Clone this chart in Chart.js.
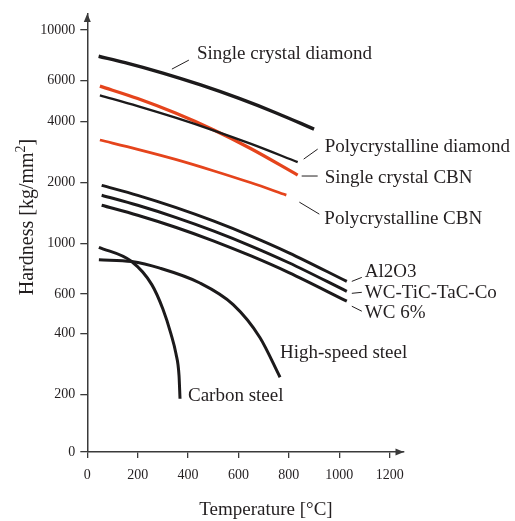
<!DOCTYPE html>
<html>
<head>
<meta charset="utf-8">
<script src="https://cdn.jsdelivr.net/npm/chart.js@4"></script>
<style>
  body { margin: 0; background: #fff; }
  canvas { display: block; }
</style>
</head>
<body>
<canvas id="chart" width="515" height="521"></canvas>
<script>
// tick labels
const xTickValues = [0, 200, 400, 600, 800, 1000, 1200];
const yTickValues = [0, 200, 400, 600, 1000, 2000, 4000, 6000, 10000];

// series names
const seriesNames = ["Single crystal diamond", "Polycrystalline diamond", "Single crystal CBN",
    "Polycrystalline CBN", "Al2O3", "WC-TiC-TaC-Co", "WC 6%", "High-speed steel", "Carbon steel"];

// temperature [°C] / hardness [kg/mm2]
const tempScDiamond = [45, 150, 300, 450, 600, 750, 900];
const hardScDiamond = [7670, 7190, 6470, 5745, 5040, 4355, 3670];
const tempPcDiamond = [50, 200, 350, 500, 650, 835];
const hardPcDiamond = [5180, 4660, 4155, 3620, 3100, 2520];
const tempScCBN = [50, 200, 350, 500, 650, 835];
const hardScCBN = [5680, 5025, 4350, 3645, 2935, 2175];
const tempPcCBN = [50, 200, 350, 500, 650, 790];
const hardPcCBN = [3240, 2915, 2600, 2285, 1990, 1730];
const tempCeramic = [57, 200, 350, 500, 650, 800, 1030];
const hardAl2O3 = [1933, 1726, 1505, 1290, 1086, 909, 681];
const hardWCTiC = [1728, 1541, 1344, 1152, 973, 822, 616];
const hardWC6 = [1543, 1377, 1201, 1029, 880, 744, 557];
const tempHSS = [46, 176, 288, 447, 579, 685, 765];
const hardHSS = [847, 832, 778, 670, 538, 383, 244];
const tempCarbon = [46, 176, 256, 300, 332, 352, 364, 368];
const hardCarbon = [961, 832, 659, 514, 399, 318, 249, 186];

// the hardness axis is not evenly spaced, these are where the ticks sit (axis units)
const yTickPos = [0, 57.7, 119.3, 159.3, 210.3, 271.7, 333, 374.3, 425.3];

function toAxis(h) {
    if (h <= yTickValues[1]) return h / yTickValues[1] * yTickPos[1];
    for (var i = 1; i < yTickValues.length - 1; i++) {
        var a = yTickValues[i], b = yTickValues[i + 1];
        if (h <= b || i == yTickValues.length - 2) {
            var f = Math.log(h / a) / Math.log(b / a);
            return yTickPos[i] + f * (yTickPos[i + 1] - yTickPos[i]);
        }
    }
}

function pts(temps, hards) {
    return temps.map((t, i) => ({ x: t, y: toAxis(hards[i]) }));
}

const BLACK = '#1c1a1b';
const RED = '#e5441c';
const TEXT = '#231f20';
const AXIS = '#3a3a3a';
const SERIF = "'Liberation Serif', 'DejaVu Serif', serif";

const seriesData = [
    [tempScDiamond, hardScDiamond, BLACK, 3.4],
    [tempPcDiamond, hardPcDiamond, BLACK, 2.4],
    [tempScCBN, hardScCBN, RED, 3.2],
    [tempPcCBN, hardPcCBN, RED, 2.7],
    [tempCeramic, hardAl2O3, BLACK, 3],
    [tempCeramic, hardWCTiC, BLACK, 3],
    [tempCeramic, hardWC6, BLACK, 3],
    [tempHSS, hardHSS, BLACK, 3],
    [tempCarbon, hardCarbon, BLACK, 3]
];

// label placement: which point it hangs off, leader line and text offsets in px
const labelSpots = [
    { point: 2, leader: [9, -4, 26, -13], text: [34, -19.5] },
    { point: -1, leader: [6, -3, 20, -13], text: [27, -15] },
    { point: -1, leader: [4, 1, 20, 1], text: [27, 2.5] },
    { point: -1, leader: [13, 7, 33, 19], text: [38, 24] },
    { point: -1, leader: [5, 0, 15, -4], text: [18, -9] },
    { point: -1, leader: [5, 2, 15, 1], text: [18, 2] },
    { point: -1, leader: [5, 5, 15, 10], text: [18, 12] },
    { point: -1, leader: null, text: [0, -24] },
    { point: -1, leader: null, text: [8, -3] }
];

const decorations = {
    id: 'decorations',
    afterDraw(chart) {
        const ctx = chart.ctx;
        const area = chart.chartArea;
        ctx.save();

        // axis arrows
        ctx.fillStyle = AXIS;
        ctx.beginPath();
        ctx.moveTo(area.left, area.top);
        ctx.lineTo(area.left - 3.5, area.top + 8.5);
        ctx.lineTo(area.left + 3.5, area.top + 8.5);
        ctx.closePath();
        ctx.fill();
        ctx.beginPath();
        ctx.moveTo(area.right, area.bottom);
        ctx.lineTo(area.right - 8.5, area.bottom - 3.5);
        ctx.lineTo(area.right - 8.5, area.bottom + 3.5);
        ctx.closePath();
        ctx.fill();

        // curve labels
        ctx.font = '19px ' + SERIF;
        ctx.fillStyle = TEXT;
        ctx.strokeStyle = TEXT;
        ctx.lineWidth = 1;
        ctx.textAlign = 'left';
        ctx.textBaseline = 'middle';
        labelSpots.forEach((spot, i) => {
            const pts = chart.getDatasetMeta(i).data;
            const p = pts[spot.point < 0 ? pts.length + spot.point : spot.point];
            if (spot.leader) {
                ctx.beginPath();
                ctx.moveTo(p.x + spot.leader[0], p.y + spot.leader[1]);
                ctx.lineTo(p.x + spot.leader[2], p.y + spot.leader[3]);
                ctx.stroke();
            }
            ctx.fillText(seriesNames[i], p.x + spot.text[0], p.y + spot.text[1]);
        });

        // x title
        ctx.textAlign = 'center';
        ctx.fillText('Temperature [°C]', 266, 510);

        // y title with superscript
        ctx.translate(33, 217);
        ctx.rotate(-Math.PI / 2);
        ctx.textBaseline = 'alphabetic';
        ctx.textAlign = 'left';
        const main = 'Hardness [kg/mm';
        ctx.font = '20px ' + SERIF;
        const w1 = ctx.measureText(main).width;
        const w3 = ctx.measureText(']').width;
        ctx.font = '14px ' + SERIF;
        const w2 = ctx.measureText('2').width;
        let x0 = -(w1 + w2 + w3) / 2;
        ctx.font = '20px ' + SERIF;
        ctx.fillText(main, x0, 0);
        ctx.font = '14px ' + SERIF;
        ctx.fillText('2', x0 + w1, -8);
        ctx.font = '20px ' + SERIF;
        ctx.fillText(']', x0 + w1 + w2, 0);
        ctx.restore();
    }
};

new Chart(document.getElementById('chart'), {
    type: 'line',
    data: {
        datasets: seriesData.map((s, i) => ({
            label: seriesNames[i],
            data: pts(s[0], s[1]),
            borderColor: s[2],
            borderWidth: s[3],
            pointRadius: 0,
            fill: false,
            cubicInterpolationMode: 'monotone'
        }))
    },
    options: {
        responsive: false,
        animation: false,
        events: [],
        layout: { padding: { left: 0, top: 10, right: 111, bottom: 0 } },
        plugins: { legend: { display: false }, tooltip: { enabled: false } },
        scales: {
            x: {
                type: 'linear',
                min: 0,
                max: 1257,
                afterBuildTicks: scale => { scale.ticks = xTickValues.map(v => ({ value: v })); },
                afterFit: scale => { scale.height = 69; },
                grid: { drawOnChartArea: false, tickLength: 6, color: AXIS, lineWidth: 1.3 },
                border: { color: AXIS, width: 1.5 },
                ticks: {
                    font: { family: SERIF, size: 14 },
                    color: TEXT,
                    padding: 9,
                    maxRotation: 0,
                    autoSkip: false,
                    callback: val => String(val)
                }
            },
            y: {
                type: 'linear',
                min: 0,
                max: 442,
                afterBuildTicks: scale => { scale.ticks = yTickValues.map(v => ({ value: toAxis(v) })); },
                afterFit: scale => { scale.width = 87.3; },
                grid: { drawOnChartArea: false, tickLength: 7, color: AXIS, lineWidth: 1.3 },
                border: { color: AXIS, width: 1.5 },
                ticks: {
                    font: { family: SERIF, size: 14 },
                    color: TEXT,
                    padding: 5,
                    autoSkip: false,
                    callback: (val, idx) => String(yTickValues[idx])
                }
            }
        }
    },
    plugins: [decorations]
});
</script>
</body>
</html>
